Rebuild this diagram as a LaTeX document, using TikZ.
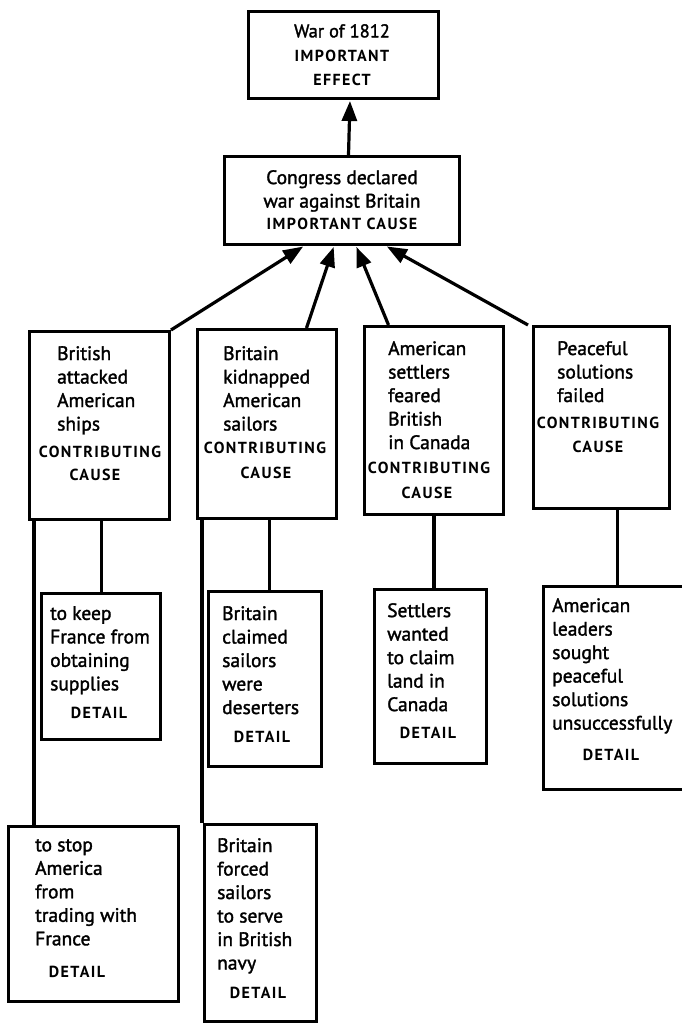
\documentclass[tikz,border=0pt]{standalone}
\usepackage{fontspec}
\setmainfont{PT Sans}
\newfontfamily\labelfont{PT Sans}[LetterSpace=9]
\newfontfamily\bodyfont{PT Sans}[FakeBold=1.6]
\usetikzlibrary{arrows.meta}

\begin{document}
\begin{tikzpicture}[x=1pt,y=-1pt,
  frame/.style={draw, line width=3pt, rectangle, anchor=north west, inner sep=0pt},
  body/.style={anchor=north west, inner sep=0pt, align=left,
    font=\bodyfont\fontsize{19.5}{23.5}\selectfont},
  headtext/.style={anchor=north, inner sep=0pt, align=center,
    font=\bodyfont\fontsize{19.5}{23.5}\selectfont},
  tag/.style={inner sep=0pt, font=\labelfont\bfseries\fontsize{16}{18}\selectfont},
  link/.style={line width=3.2pt},
  arr/.style={line width=3.2pt, -{Triangle[length=20pt,width=15pt]}, shorten >=1pt}
]
\useasboundingbox (0,0) rectangle (682,1025);

% ---- effect and main cause ----
\node[frame, minimum width=190pt, minimum height=87pt] (eff) at (247,10) {};
\node[headtext, font=\bodyfont\fontsize{18.5}{23.5}\selectfont] (effT) at (342,24) {War of 1812};
\node[tag] (effL1) at (342,56) {IMPORTANT};
\node[tag] (effL2) at (342,80) {EFFECT};

\node[frame, minimum width=235pt, minimum height=88pt] (cong) at (223,155) {};
\node[headtext] (congT) at (342,170) {Congress declared\\war against Britain};
\node[tag] (congL) at (342,224) {IMPORTANT CAUSE};

% ---- contributing causes ----
\node[frame, minimum width=140pt, minimum height=188pt] (ca) at (28,330) {};
\node[body] (caT) at (57,346) {British\\attacked\\American\\ships};
\node[tag] (caL1) at (100,452) {CONTRIBUTING};
\node[tag] (caL2) at (95,475) {CAUSE};

\node[frame, minimum width=139pt, minimum height=189pt] (cb) at (196,328) {};
\node[body] (cbT) at (223,346) {Britain\\kidnapped\\American\\sailors};
\node[tag] (cbL1) at (265,448) {CONTRIBUTING};
\node[tag] (cbL2) at (266,473) {CAUSE};

\node[frame, minimum width=139pt, minimum height=188pt] (cc) at (363,325) {};
\node[body] (ccT) at (388,341) {American\\settlers\\feared\\British\\in Canada};
\node[tag] (ccL1) at (429,468) {CONTRIBUTING};
\node[tag] (ccL2) at (427,493) {CAUSE};

\node[frame, minimum width=136pt, minimum height=182pt] (cd) at (532,325) {};
\node[body] (cdT) at (557,341) {Peaceful\\solutions\\failed};
\node[tag] (cdL1) at (598,423) {CONTRIBUTING};
\node[tag] (cdL2) at (598,447) {CAUSE};

% ---- details ----
\node[frame, minimum width=119pt, minimum height=146pt] (da1) at (40,592) {};
\node[body] (da1T) at (50,606) {to keep\\France from\\obtaining\\supplies};
\node[tag] (da1L) at (99,713) {DETAIL};

\node[frame, minimum width=170pt, minimum height=175pt] (da2) at (7,825) {};
\node[body] (da2T) at (35,839) {to stop\\America\\from\\trading with\\France};
\node[tag] (da2L) at (77,972) {DETAIL};

\node[frame, minimum width=113pt, minimum height=175pt] (db1) at (207,590) {};
\node[body] (db1T) at (222,606) {Britain\\claimed\\sailors\\were\\deserters};
\node[tag] (db1L) at (262,737) {DETAIL};

\node[frame, minimum width=112pt, minimum height=197pt] (db2) at (203,823) {};
\node[body] (db2T) at (217,838) {Britain\\forced\\sailors\\to serve\\in British\\navy};
\node[tag] (db2L) at (258,993) {DETAIL};

\node[frame, minimum width=112pt, minimum height=174pt] (dc1) at (373,588) {};
\node[body] (dc1T) at (387,603) {Settlers\\wanted\\to claim\\land in\\Canada};
\node[tag] (dc1L) at (428,733) {DETAIL};

\node[frame, minimum width=148pt, minimum height=203pt] (dd1) at (542,585) {};
\node[body] (dd1T) at (552,598) {American\\leaders\\sought\\peaceful\\solutions\\unsuccessfully};
\node[tag] (dd1L) at (611,755) {DETAIL};

% ---- arrows toward the effect ----
\draw[arr] ([xshift=6.5pt]cong.north) -- ([xshift=6.5pt]eff.south);
\draw[arr] (ca.north east) -- ([xshift=-38pt]cong.south);
\draw[arr] ([xshift=39.5pt]cb.north) -- ([xshift=-8pt]cong.south);
\draw[arr] ([xshift=-45.5pt]cc.north) -- ([xshift=14pt]cong.south);
\draw[arr] ([xshift=-4pt]cd.north west) -- ([xshift=44pt]cong.south);

% ---- links down to the details ----
\draw[link] ([xshift=0.5pt]da1.north |- ca.south) -- ([xshift=0.5pt]da1.north);
\draw[link] ([xshift=6pt]ca.south west) -- ([xshift=6pt]ca.south west |- da2.north);
\draw[link] ([xshift=4.5pt]db1.north |- cb.south) -- ([xshift=4.5pt]db1.north);
\draw[link] ([xshift=-1pt]db2.north west |- cb.south) -- ([xshift=-1pt]db2.north west);
\draw[link] (cc.south) -- (cc.south |- dc1.north);
\draw[link] (dd1.north |- cd.south) -- (dd1.north);
\end{tikzpicture}
\end{document}
